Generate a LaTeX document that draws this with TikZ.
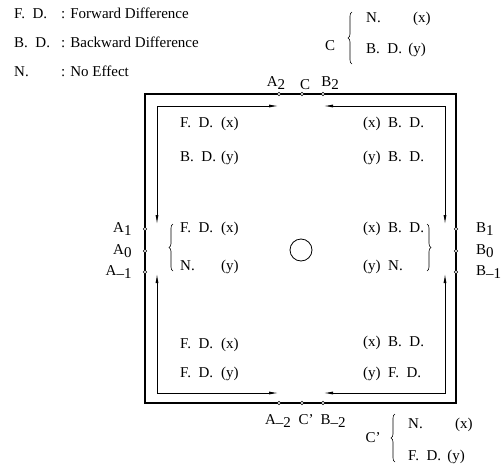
\documentclass[tikz,border=0pt]{standalone}
\usepackage{fontspec}
\setmainfont{Liberation Serif}
\usetikzlibrary{arrows.meta, positioning, decorations.pathreplacing}
\tikzset{
	port/.style={circle, draw, fill=white, inner sep=0pt, minimum size=3.4pt, line width=0.5pt},
	txt/.style={inner sep=0pt, anchor=west},
	frame/.style={draw, line width=1.2pt},
	line/.style={draw, line width=1pt, {Latex[length=10pt,width=3pt]}-{Latex[length=10pt,width=3pt]}},
	curly/.style={decorate, decoration={brace, amplitude=4pt}, line width=0.6pt}
}
\newcommand{\lsub}[2]{#1\raisebox{-0.5ex}{#2}}
\newcommand{\dgap}{\hspace{0.5em}}
\newcommand{\pairL}[2]{\makebox[41pt][l]{#1}#2}

\begin{document}
\begin{tikzpicture}[x=1pt,y=-1pt,font=\fontsize{15}{17}\selectfont]
	\useasboundingbox (0,0) rectangle (503,466);
	% Legend
	\node[txt] (kFD) at (14,13) {\makebox[47pt][l]{F.\dgap D.}:\hspace{5pt}Forward Difference};
	\node[txt] (kBD) at (14,42) {\makebox[47pt][l]{B.\dgap D.}:\hspace{5pt}Backward Difference};
	\node[txt] (kN) at (14,71) {\makebox[47pt][l]{N.}:\hspace{5pt}No Effect};
	% C and C'
	\node (C-key) at (330,46) {C};
	\draw[curly] (352,64) -- (352,12);
	\node[txt] (C-x) at (366,19) {\makebox[47pt][l]{N.}(x)};
	\node[txt] (C-y) at (366,50) {B.\dgap D.\ \,(y)};
	\node (Cp-key) at (373,438) {C'};
	\draw[curly] (395,462) -- (395,414);
	\node[txt] (Cp-x) at (408,425) {\makebox[47pt][l]{N.}(x)};
	\node[txt] (Cp-y) at (408,457) {F.\dgap D.\ \,(y)};
	% Frame
	\draw[frame] (145,94) rectangle (456,403);
	% Ports
	\node[port] (A2) at (279,94) {};
	\node[port] (C) at (302,94) {};
	\node[port] (B2) at (323,94) {};
	\node[port] (Am2) at (279,403) {};
	\node[port] (Cp) at (302,403) {};
	\node[port] (Bm2) at (323,403) {};
	\node[port] (A1) at (145,229) {};
	\node[port] (A0) at (145,251) {};
	\node[port] (Am1) at (145,272) {};
	\node[port] (B1) at (456,229) {};
	\node[port] (B0) at (456,251) {};
	\node[port] (Bm1) at (456,272) {};
	\node[above=-1pt of A2, xshift=-3pt] (lA2) {\lsub{A}{2}};
	\node[above=-1pt of C, xshift=3pt] (lC) {C};
	\node[above=-1pt of B2, xshift=7pt] (lB2) {\lsub{B}{2}};
	\node[below=6pt of Am2, xshift=-1pt] (lAm2) {\lsub{A}{--2}};
	\node[below=6pt of Cp, xshift=4pt] (lCp) {C'};
	\node[below=6pt of Bm2, xshift=10pt] (lBm2) {\lsub{B}{--2}};
	\node[left=8pt of A1] (lA1) {\lsub{A}{1}};
	\node[left=8pt of A0] (lA0) {\lsub{A}{0}};
	\node[left=8pt of Am1] (lAm1) {\lsub{A}{--1}};
	\node[txt] (lB1) at (476,229) {\lsub{B}{1}};
	\node[txt] (lB0) at (476,251) {\lsub{B}{0}};
	\node[txt] (lBm1) at (476,272) {\lsub{B}{--1}};
	% Arrows
	\coordinate (tl-d) at (157,225);
	\coordinate (tl-r) at (A2 |- 0,106);
	\coordinate (tr-d) at (445,225);
	\coordinate (tr-l) at (B2 |- 0,106);
	\coordinate (bl-u) at (157,273);
	\coordinate (bl-r) at (A2 |- 0,393);
	\coordinate (br-u) at (445,273);
	\coordinate (br-l) at (B2 |- 0,393);
	\draw[line] (tl-d) |- (tl-r);
	\draw[line] (tr-d) |- (tr-l);
	\draw[line] (bl-u) |- (bl-r);
	\draw[line] (br-u) |- (br-l);
	% Centre
	\node[circle, draw, line width=0.8pt, minimum size=22pt] (O) at (301,250) {};
	% Texts
	\node[txt] (t1) at (180,124) {\pairL{F.\dgap D.}{(x)}};
	\node[txt] (t2) at (180,158) {\pairL{B.\dgap D.}{(y)}};
	\node[txt] (t3) at (363,124) {(x)\dgap B.\dgap D.};
	\node[txt] (t4) at (363,158) {(y)\dgap B.\dgap D.};
	\node[txt] (m1) at (180,229) {\pairL{F.\dgap D.}{(x)}};
	\node[txt] (m2) at (180,267) {\pairL{N.}{(y)}};
	\draw[curly] (173,271) -- (173,224);
	\node[txt] (m3) at (363,229) {(x)\dgap B.\dgap D.};
	\node[txt] (m4) at (363,267) {(y)\dgap N.};
	\draw[curly] (427,224) -- (427,271);
	\node[txt] (b1) at (180,345) {\pairL{F.\dgap D.}{(x)}};
	\node[txt] (b2) at (180,374) {\pairL{F.\dgap D.}{(y)}};
	\node[txt] (b3) at (363,343) {(x)\dgap B.\dgap D.};
	\node[txt] (b4) at (363,374) {(y)\dgap F.\dgap D.};
\end{tikzpicture}
\end{document}
